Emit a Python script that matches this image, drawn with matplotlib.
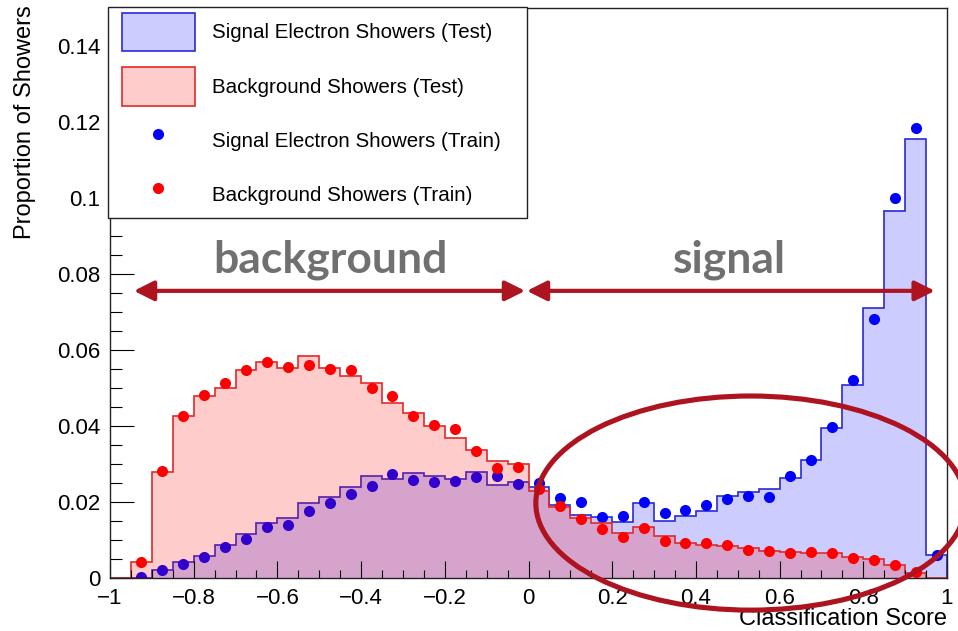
import numpy as np
import matplotlib
matplotlib.use("Agg")
import matplotlib.pyplot as plt
from matplotlib.patches import Patch, Ellipse, FancyArrowPatch, Rectangle
from matplotlib.lines import Line2D
from matplotlib.ticker import MultipleLocator

plt.rcParams['font.family'] = ['Liberation Sans', 'DejaVu Sans']

# ---------------- data ----------------
n_bins = 40
bin_edges = np.linspace(-1.0, 1.0, n_bins + 1)
bin_centers = 0.5 * (bin_edges[:-1] + bin_edges[1:])

signal_test = [0.0, 0.0, 0.0021, 0.0042, 0.0059, 0.0088, 0.0116, 0.0145, 0.0158, 0.0198,
               0.0212, 0.0240, 0.0269, 0.0260, 0.0277, 0.0268, 0.0260, 0.0280, 0.0245, 0.0253,
               0.0240, 0.0192, 0.0165, 0.0161, 0.0146, 0.0197, 0.0151, 0.0163, 0.0175, 0.0216,
               0.0227, 0.0233, 0.0262, 0.0310, 0.0394, 0.0508, 0.0710, 0.0964, 0.1153, 0.0060]
signal_train = [np.nan, 0.0003, 0.0022, 0.0037, 0.0054, 0.0082, 0.0102, 0.0133, 0.0139, 0.0177,
                0.0197, 0.0220, 0.0243, 0.0273, 0.0258, 0.0252, 0.0256, 0.0265, 0.0267, 0.0247,
                0.0249, 0.0211, 0.0201, 0.0160, 0.0163, 0.0201, 0.0170, 0.0179, 0.0192, 0.0207,
                0.0216, 0.0212, 0.0268, 0.0310, 0.0398, 0.0520, 0.0680, 0.0999, 0.1183, 0.0060]
background_test = [0.0, 0.0042, 0.0280, 0.0425, 0.0479, 0.0499, 0.0546, 0.0567, 0.0553, 0.0584,
                   0.0553, 0.0530, 0.0512, 0.0461, 0.0435, 0.0400, 0.0369, 0.0337, 0.0308, 0.0300,
                   0.0230, 0.0186, 0.0157, 0.0144, 0.0118, 0.0133, 0.0110, 0.0091, 0.0088, 0.0084,
                   0.0080, 0.0072, 0.0069, 0.0067, 0.0065, 0.0056, 0.0050, 0.0034, 0.0014, 0.0]
background_train = [np.nan, 0.0043, 0.0282, 0.0425, 0.0480, 0.0514, 0.0546, 0.0569, 0.0556, 0.0560,
                    0.0550, 0.0547, 0.0499, 0.0479, 0.0425, 0.0403, 0.0392, 0.0334, 0.0289, 0.0293,
                    0.0235, 0.0188, 0.0154, 0.0128, 0.0109, 0.0131, 0.0096, 0.0091, 0.0093, 0.0087,
                    0.0074, 0.0072, 0.0067, 0.0068, 0.0065, 0.0052, 0.0047, 0.0034, 0.0017, np.nan]

xtick_vals = [-1, -0.8, -0.6, -0.4, -0.2, 0, 0.2, 0.4, 0.6, 0.8, 1]
xtick_labels = ['\u22121', '\u22120.8', '\u22120.6', '\u22120.4', '\u22120.2', '0',
                '0.2', '0.4', '0.6', '0.8', '1']
ytick_vals = [0, 0.02, 0.04, 0.06, 0.08, 0.10, 0.12, 0.14]
ytick_labels = ['0', '0.02', '0.04', '0.06', '0.08', '0.1', '0.12', '0.14']

legend_labels = ['Signal Electron Showers (Test)', 'Background Showers (Test)',
                 'Signal Electron Showers (Train)', 'Background Showers (Train)']

# ---------------- style ----------------
blue_fill = (0, 0, 1, 0.2)
red_fill = (1, 0, 0, 0.2)
blue_edge = '#2a2ad8'
red_edge = '#e02a2a'
anno_color = '#ad1420'
text_gray = '#707070'

W, H = 958, 631
fig = plt.figure(figsize=(W / 100, H / 100), dpi=100)
ax = fig.add_axes([110 / W, 1 - 578 / H, 837 / W, (578 - 7.5) / H])

ax.stairs(signal_test, bin_edges, fill=True, color=blue_fill, zorder=1.0)
ax.stairs(signal_test, bin_edges, color=blue_edge, lw=1.2, zorder=1.1)
ax.plot(bin_centers, signal_train, 'o', color='#0000ff', ms=8, mew=0, zorder=1.2)
ax.stairs(background_test, bin_edges, fill=True, color=red_fill, zorder=1.3)
ax.stairs(background_test, bin_edges, color=red_edge, lw=1.2, zorder=1.4)
ax.plot(bin_centers, background_train, 'o', color='#ff0000', ms=8, mew=0, zorder=1.5)

ax.set_xlim(-1, 1)
ax.set_ylim(0, 0.15)
ax.set_xticks(xtick_vals)
ax.set_xticklabels(xtick_labels)
ax.set_yticks(ytick_vals)
ax.set_yticklabels(ytick_labels)
ax.xaxis.set_minor_locator(MultipleLocator(0.05))
ax.yaxis.set_minor_locator(MultipleLocator(0.005))
ax.tick_params(axis='x', which='major', direction='in', length=12, width=0.8, labelsize=16, pad=7)
ax.tick_params(axis='x', which='minor', direction='in', length=6, width=0.8)
ax.tick_params(axis='y', which='major', direction='in', length=17, width=0.8, labelsize=16, pad=7)
ax.tick_params(axis='y', which='minor', direction='in', length=8.5, width=0.8)
for s in ax.spines.values():
    s.set_linewidth(1.0)
    s.set_color('#222222')
    s.set_zorder(3)

ax.set_xlabel('Classification Score', fontsize=17)
ax.xaxis.set_label_coords(1.0, -0.072)
ax.xaxis.label.set_ha('right')
ax.xaxis.label.set_va('center')

ax.set_ylabel('Proportion of Showers', fontsize=17)
ax.yaxis.set_label_coords(-0.1015, 1.004)
ax.yaxis.label.set_rotation_mode('anchor')
ax.yaxis.label.set_ha('right')
ax.yaxis.label.set_va('center')

# legend frame (ROOT-style fixed box)
frame = Rectangle((108 / W, 1 - 218 / H), 419 / W, 211 / H, transform=fig.transFigure,
                  facecolor='white', edgecolor='#222222', lw=1.0, clip_on=False, zorder=4.9)
ax.add_patch(frame)

handles = [Patch(facecolor=blue_fill, edgecolor=blue_edge, lw=1.2),
           Patch(facecolor=red_fill, edgecolor=red_edge, lw=1.2),
           Line2D([], [], ls='none', marker='o', color='#0000ff', ms=8, mew=0),
           Line2D([], [], ls='none', marker='o', color='#ff0000', ms=8, mew=0)]
leg = ax.legend(handles, legend_labels, loc='upper left',
                bbox_to_anchor=(122 / W, 1 - 13 / H), bbox_transform=fig.transFigure,
                prop={'size': 14.8}, handlelength=3.55, handleheight=2.5,
                labelspacing=0.76, handletextpad=0.82, borderpad=0,
                borderaxespad=0, frameon=False)
leg.set_zorder(5)

# annotations
ax.text(-0.474, 0.0804, 'background', family=['Lato', 'DejaVu Sans'], weight='bold',
        fontsize=32, color=text_gray, ha='center', va='baseline', zorder=6)
ax.text(0.479, 0.0804, 'signal', family=['Lato', 'DejaVu Sans'], weight='bold',
        fontsize=32, color=text_gray, ha='center', va='baseline', zorder=6)

for x0, x1 in [(-0.943, -0.008), (-0.004, 0.971)]:
    arr = FancyArrowPatch((x0, 0.0755), (x1, 0.0755), arrowstyle='<|-|>,head_length=12,head_width=6',
                          mutation_scale=1, color=anno_color, lw=3, shrinkA=0, shrinkB=0,
                          clip_on=False, zorder=7)
    ax.add_patch(arr)

ell = Ellipse((0.531, 0.0197), 1.027, 0.0563, fill=False, edgecolor=anno_color, lw=3.7,
              clip_on=False, zorder=8)
ax.add_patch(ell)

fig.savefig('out.png', dpi=100)
